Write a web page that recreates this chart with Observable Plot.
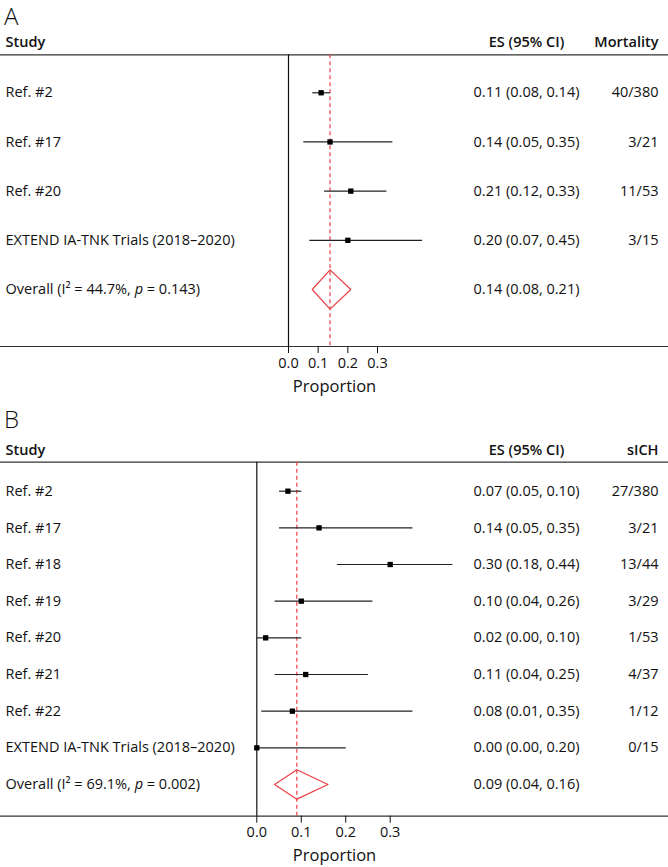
<!DOCTYPE html>
<html><head><meta charset="utf-8">
<script src="https://cdn.jsdelivr.net/npm/d3@7"></script>
<script src="https://cdn.jsdelivr.net/npm/@observablehq/plot@0.6"></script>
<style>
body{margin:0;background:#fff;font-family:"Open Sans",sans-serif;}
.panel-title{height:30px;line-height:32px;font-size:24px;font-weight:300;padding-left:4px;color:#111;}
.panel-title.b{height:27px;padding-top:3px;}
</style></head><body><div id="chart"></div>
<script>
// Panel A: Mortality
const studiesA = ["Ref. #2", "Ref. #17", "Ref. #20", "EXTEND IA-TNK Trials (2018–2020)"];
const esA = [0.11, 0.14, 0.21, 0.20];
const loA = [0.08, 0.05, 0.12, 0.07];
const hiA = [0.14, 0.35, 0.33, 0.45];
const countsA = ["40/380", "3/21", "11/53", "3/15"];
const overallLabelA = "Overall (I² = 44.7%, p = 0.143)";
const overallA = [0.14, 0.08, 0.21]; // es, lo, hi

// Panel B: sICH
const studiesB = ["Ref. #2", "Ref. #17", "Ref. #18", "Ref. #19", "Ref. #20", "Ref. #21", "Ref. #22", "EXTEND IA-TNK Trials (2018–2020)"];
const esB = [0.07, 0.14, 0.30, 0.10, 0.02, 0.11, 0.08, 0.00];
const loB = [0.05, 0.05, 0.18, 0.04, 0.00, 0.04, 0.01, 0.00];
const hiB = [0.10, 0.35, 0.44, 0.26, 0.10, 0.25, 0.35, 0.20];
const countsB = ["27/380", "3/21", "13/44", "3/29", "1/53", "4/37", "1/12", "0/15"];
const overallLabelB = "Overall (I² = 69.1%, p = 0.002)";
const overallB = [0.09, 0.04, 0.16];

const tickValues = [0, 0.1, 0.2, 0.3];
const tickLabels = ["0.0", "0.1", "0.2", "0.3"];

const RED = "#ea3f44";
const fmt = d3.format(".2f");

function forest({studies, es, lo, hi, counts, overallLabel, overall, countHeader, height, marginTop, marginBottom, xRange, yDomain}) {
  const rows = studies.map((s, i) => ({i, study: s, es: es[i], lo: lo[i], hi: hi[i], n: counts[i],
    ci: `${fmt(es[i])} (${fmt(lo[i])}, ${fmt(hi[i])})`}));
  const k = rows.length;
  const ov = {i: k, study: overallLabel, es: overall[0], lo: overall[1], hi: overall[2],
    ci: `${fmt(overall[0])} (${fmt(overall[1])}, ${fmt(overall[2])})`};
  const h = 0.4;
  const diamond = [[ov.lo, k], [ov.es, k - h], [ov.hi, k], [ov.es, k + h], [ov.lo, k]];
  const all = rows.concat([ov]);
  const svg = Plot.plot({
    width: 668, height, marginLeft: 0, marginRight: 0, marginTop, marginBottom,
    style: {fontFamily: "'Open Sans', sans-serif", fontSize: "14.5px", color: "#111", background: "white", overflow: "visible"},
    x: {domain: [0, 0.3], range: xRange},
    y: {domain: yDomain, reverse: true, axis: null},
    marks: [
      Plot.ruleY([yDomain[0]], {stroke: "#333", strokeWidth: 1.2}),
      Plot.ruleY([yDomain[1]], {stroke: "#333", strokeWidth: 1.2}),
      Plot.ruleX([0], {stroke: "#111", strokeWidth: 1.2}),
      Plot.ruleX([ov.es], {stroke: RED, strokeDasharray: "4,3", strokeWidth: 1.2}),
      Plot.link(rows, {x1: "lo", x2: "hi", y1: "i", y2: "i", stroke: "#222", strokeWidth: 1.2}),
      Plot.dot(rows, {x: "es", y: "i", symbol: "square", r: 3, fill: "#000", stroke: null}),
      Plot.line(diamond, {x: d => d[0], y: d => d[1], stroke: RED, strokeWidth: 1.2}),
      Plot.text(all, {y: "i", text: "study", frameAnchor: "left", dx: 5, textAnchor: "start", lineAnchor: "middle", fill: "#111"}),
      Plot.text(all, {y: "i", text: "ci", frameAnchor: "right", dx: -142, textAnchor: "middle", lineAnchor: "middle", fill: "#111"}),
      Plot.text(rows, {y: "i", text: "n", frameAnchor: "right", dx: -10, textAnchor: "end", lineAnchor: "middle", fill: "#111"}),
      Plot.text(["Study"], {frameAnchor: "top-left", dx: 5, dy: -12, textAnchor: "start", lineAnchor: "middle", fontWeight: 600, fill: "#111"}),
      Plot.text(["ES (95% CI)"], {frameAnchor: "top-right", dx: -142, dy: -12, textAnchor: "middle", lineAnchor: "middle", fontWeight: 600, fill: "#111"}),
      Plot.text([countHeader], {frameAnchor: "top-right", dx: -10, dy: -12, textAnchor: "end", lineAnchor: "middle", fontWeight: 600, fill: "#111"}),
      Plot.axisX({ticks: tickValues, tickFormat: (d, i) => tickLabels[i], tickSize: 7, tickPadding: 4, label: null, fontSize: 14.5, stroke: "#111"}),
      Plot.text(["Proportion"], {frameAnchor: "bottom", dy: 40, lineAnchor: "middle", fontSize: 16.5, fill: "#111"})
    ]
  });
  // italicize "p" in the overall label
  svg.querySelectorAll("text").forEach(t => {
    if (t.textContent.startsWith("Overall (")) {
      const s = t.textContent;
      const j = s.indexOf(", p =");
      t.textContent = "";
      const a = document.createElementNS("http://www.w3.org/2000/svg", "tspan"); a.textContent = s.slice(0, j + 2);
      const b = document.createElementNS("http://www.w3.org/2000/svg", "tspan"); b.textContent = "p"; b.setAttribute("font-style", "italic");
      const c = document.createElementNS("http://www.w3.org/2000/svg", "tspan"); c.textContent = s.slice(j + 3);
      t.append(a, b, c);
    }
  });
  return svg;
}

const root = document.getElementById("chart");
function addTitle(txt, cls) { const d = document.createElement("div"); d.className = "panel-title " + (cls || ""); d.textContent = txt; root.appendChild(d); }

addTitle("A");
root.appendChild(forest({studies: studiesA, es: esA, lo: loA, hi: hiA, counts: countsA,
  overallLabel: overallLabelA, overall: overallA, countHeader: "Mortality",
  height: 370, marginTop: 24.3, marginBottom: 54, xRange: [288, 377], yDomain: [-0.772, 5.159]}));
addTitle("B", "b");
root.appendChild(forest({studies: studiesB, es: esB, lo: loB, hi: hiB, counts: countsB,
  overallLabel: overallLabelB, overall: overallB, countHeader: "sICH",
  height: 437, marginTop: 31.7, marginBottom: 51.3, xRange: [256.3, 389.7], yDomain: [-0.791, 8.865]}));
</script></body></html>
